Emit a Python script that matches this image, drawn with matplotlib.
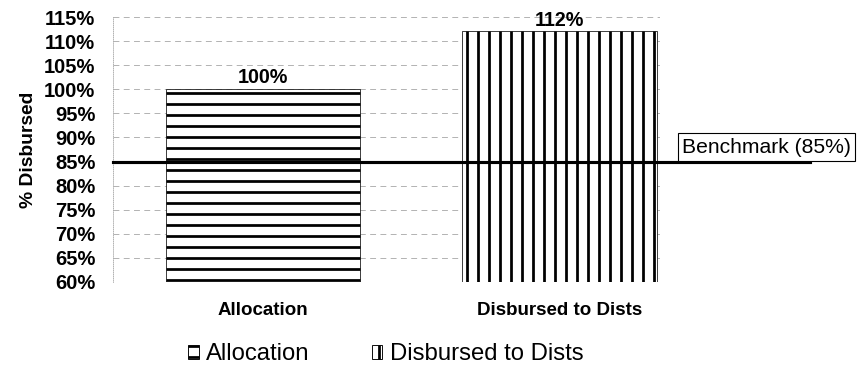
import matplotlib
matplotlib.use("Agg")
import matplotlib.pyplot as plt
from matplotlib.patches import Patch

# data
categories = ["Allocation", "Disbursed to Dists"]
values = [100, 112]
value_labels = ["100%", "112%"]
benchmark = 85
benchmark_label = "Benchmark (85%)"
yticks = list(range(60, 116, 5))
ytick_labels = ["%d%%" % v for v in yticks]
hatches = ["-", "|"]

DPI = 66
plt.rcParams['font.family'] = ['Liberation Sans', 'DejaVu Sans']
plt.rcParams['hatch.linewidth'] = 3.0

fig = plt.figure(figsize=(861 / DPI, 378 / DPI), dpi=DPI)
ax = fig.add_axes([0.131, 0.254, 0.636, 0.701])

x = list(range(len(categories)))
bars = ax.bar(x, values, width=0.655, color="white", edgecolor="black",
              linewidth=0.8, zorder=2)
for b, h in zip(bars, hatches):
    b.set_hatch(h)

ax.set_xlim(-0.507, 1.34)
ax.set_ylim(60, 115)
ax.set_yticks(yticks)
ax.set_yticklabels(ytick_labels, fontsize=22, fontweight="bold")
ax.set_xticks(x)
ax.set_xticklabels(categories, fontsize=20.5, fontweight="bold")
ax.tick_params(axis="y", length=0, pad=19)
ax.tick_params(axis="x", length=0, pad=22)
ax.set_ylabel("% Disbursed", fontsize=21, fontweight="bold", labelpad=8)

# broken dashed grid like the scan
ax.yaxis.grid(True, color="#999999", linestyle=(0, (8, 6)), linewidth=0.8, zorder=0)
for s in ["top", "right", "bottom"]:
    ax.spines[s].set_visible(False)
ax.spines["left"].set_linestyle(":")
ax.spines["left"].set_color("#999999")

# value labels
for xi, v, lab in zip(x, values, value_labels):
    ax.text(xi, v + 0.4, lab, ha="center", va="bottom", fontsize=21.5,
            fontweight="bold", zorder=3)

# benchmark line and its boxed label
ax.axhline(benchmark, xmin=0, xmax=1.274, color="black", linewidth=3.4,
           clip_on=False, zorder=4)
ax.text(1.04, 88.0, benchmark_label, transform=ax.get_yaxis_transform(),
        ha="left", va="center", fontsize=23,
        bbox=dict(facecolor="white", edgecolor="black", linewidth=1.2,
                  boxstyle="square,pad=0.2"), zorder=5)

handles = [Patch(facecolor="white", edgecolor="black", hatch=h, label=c)
           for h, c in zip(hatches, categories)]
fig.legend(handles=handles, loc="center", bbox_to_anchor=(0.448, 0.063),
           ncol=2, frameon=False, fontsize=26, handlelength=0.45,
           handleheight=0.5, handletextpad=0.3, columnspacing=2.6,
           borderpad=0, borderaxespad=0)

fig.savefig("out.png", dpi=DPI)
